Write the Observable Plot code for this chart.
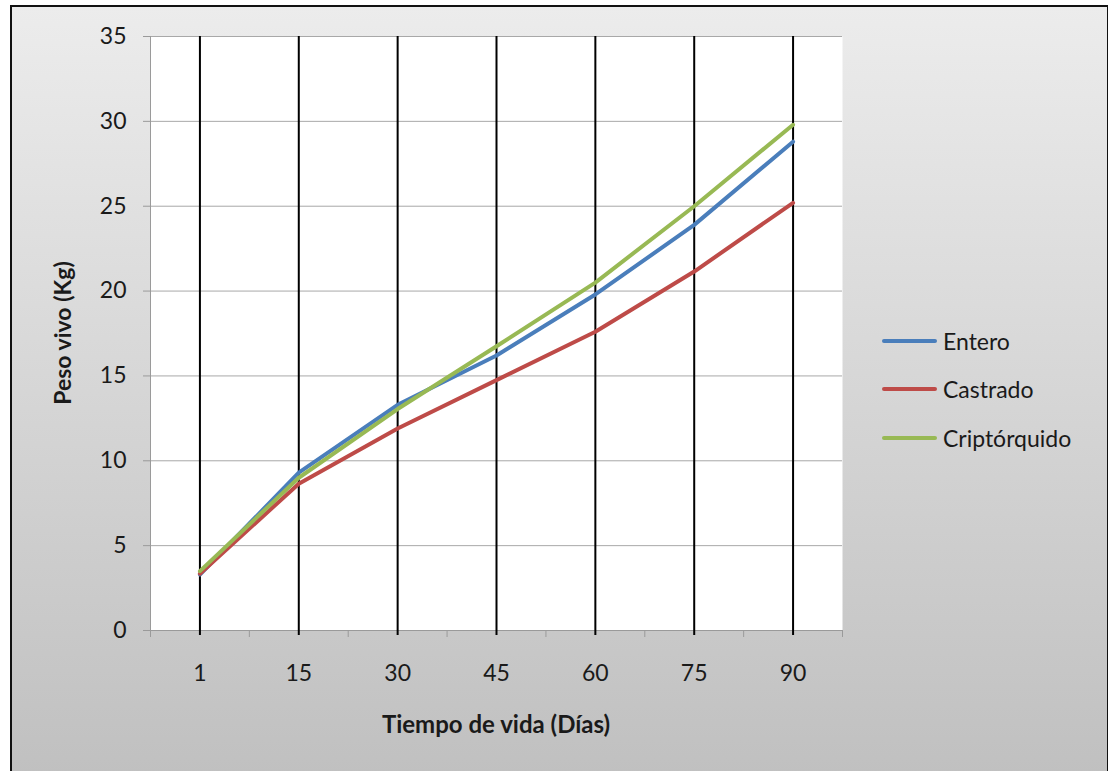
<!DOCTYPE html>
<html>
<head>
<meta charset="utf-8">
<script src="https://cdn.jsdelivr.net/npm/d3@7"></script>
<script src="https://cdn.jsdelivr.net/npm/@observablehq/plot@0.6"></script>
<style>
  html, body { margin: 0; padding: 0; background: #fff; }
  #wrap { position: relative; width: 1108px; height: 771px; overflow: hidden; font-family: Lato, "Noto Sans", sans-serif; color: #1a1a1a; }
  #panel { position: absolute; left: 10px; top: 5px; width: 1095px; height: 820px; border: 2px solid #111; background: linear-gradient(#ececec, #bdbdbd); }
  #plot { position: absolute; left: 0; top: 0; }
  .title-x { position: absolute; left: 496px; top: 723px; transform: translate(-50%, -50%); font-weight: bold; font-size: 24px; white-space: nowrap; }
  .title-y { position: absolute; left: 62px; top: 333px; transform: translate(-50%, -50%) rotate(-90deg); font-weight: bold; font-size: 23px; white-space: nowrap; }
  .legend { position: absolute; left: 882px; top: 0; }
  .legend .item { position: absolute; left: 0; display: flex; align-items: center; white-space: nowrap; font-size: 23px; transform: translateY(-50%); }
  .legend .sw { width: 55px; height: 4px; border-radius: 2px; margin-right: 6px; }
</style>
</head>
<body>
<div id="wrap">
  <div id="panel"></div>
  <div id="plot"></div>
  <div class="title-y">Peso vivo (Kg)</div>
  <div class="title-x">Tiempo de vida (Días)</div>
  <div class="legend" id="legend"></div>
</div>
<script>
// Live weight (kg) by age in days for each group
const days = [1, 15, 30, 45, 60, 75, 90];
const series = ["Entero", "Castrado", "Criptórquido"];
const entero = [3.3, 9.3, 13.3, 16.2, 19.8, 23.9, 28.8];
const castrado = [3.35, 8.65, 11.9, 14.75, 17.6, 21.15, 25.2];
const criptorquido = [3.5, 9.0, 13.05, 16.75, 20.5, 25.0, 29.8];
const colors = ["#4a7ebb", "#be4b48", "#98b954"];
const yTicks = [0, 5, 10, 15, 20, 25, 30, 35];

const values = [entero, castrado, criptorquido];
const rows = series.flatMap((s, k) => days.map((d, i) => ({series: s, i, day: d, value: values[k][i]})));
const index = days.map((d, i) => i);
const boundaries = [...index.map(i => i - 0.5), days.length - 0.5];

const chart = Plot.plot({
  width: 1108,
  height: 771,
  marginLeft: 150,
  marginRight: 266,
  marginTop: 36,
  marginBottom: 141,
  style: {background: "transparent", fontFamily: "Lato, 'Noto Sans', sans-serif", fontSize: "23px", color: "#1a1a1a"},
  x: {type: "linear", domain: [-0.5, days.length - 0.5], axis: null, label: null},
  y: {domain: [0, 35], axis: null, label: null},
  color: {domain: series, range: colors},
  marks: [
    Plot.frame({fill: "white", stroke: "none"}),
    Plot.gridY(yTicks, {stroke: "#a8a8a8", strokeOpacity: 1}),
    Plot.ruleX([-0.5], {stroke: "#9a9a9a"}),
    Plot.ruleY([0], {stroke: "#9a9a9a"}),
    Plot.axisY({ticks: yTicks, tickSize: 7, tickFormat: () => "", stroke: "#9a9a9a", label: null}),
    Plot.axisY({ticks: yTicks, tickSize: 0, tickPadding: 24, fontSize: 23, fill: "#1a1a1a", label: null}),
    Plot.axisX({ticks: boundaries, tickSize: 7, tickFormat: () => "", stroke: "#9a9a9a", label: null}),
    Plot.axisX({ticks: index, tickSize: 0, tickPadding: 34, fontSize: 23, fill: "#1a1a1a", label: null, tickFormat: i => String(days[i])}),
    Plot.ruleX(index, {stroke: "#000", strokeWidth: 2, insetBottom: -5}),
    Plot.line(rows, {x: "i", y: "value", z: "series", stroke: "series", strokeWidth: 4, strokeLinecap: "round", strokeLinejoin: "round"})
  ]
});
document.getElementById("plot").appendChild(chart);

// Legend at the right of the plot area
const legend = document.getElementById("legend");
const legendY = [341, 389, 438];
series.forEach((s, k) => {
  const item = document.createElement("div");
  item.className = "item";
  item.style.top = legendY[k] + "px";
  const sw = document.createElement("span");
  sw.className = "sw";
  sw.style.background = colors[k];
  const label = document.createElement("span");
  label.textContent = s;
  item.appendChild(sw);
  item.appendChild(label);
  legend.appendChild(item);
});
</script>
</body>
</html>
